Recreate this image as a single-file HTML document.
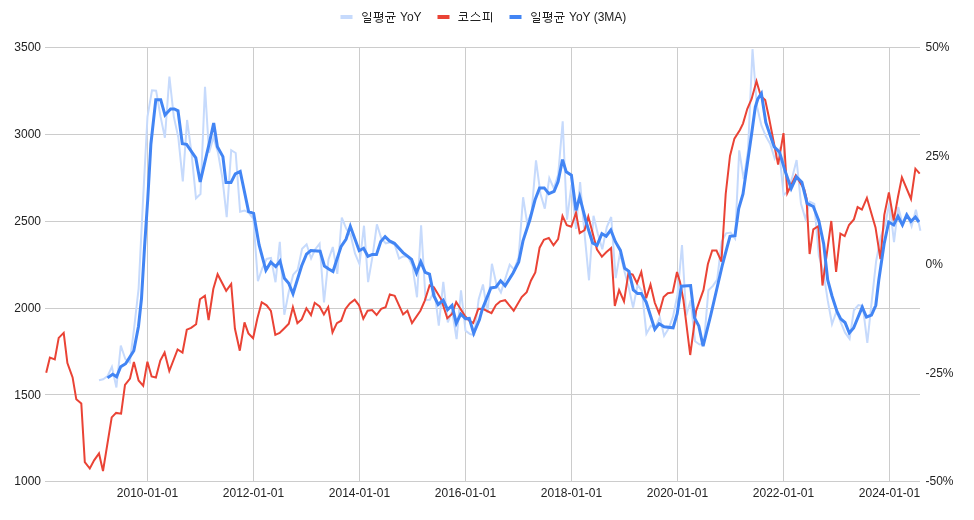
<!DOCTYPE html>
<html><head><meta charset="utf-8"><style>
html,body{margin:0;padding:0;background:#fff;overflow:hidden;}
svg{display:block;will-change:transform;}
text{font-family:"Liberation Sans",sans-serif;font-size:12px;fill:#222222;}
</style></head><body>
<svg width="974" height="520" viewBox="0 0 974 520">
<rect width="974" height="520" fill="#ffffff"/>
<line x1="45" x2="920" y1="47.5" y2="47.5" stroke="#cccccc" stroke-width="1"/>
<line x1="45" x2="920" y1="134.5" y2="134.5" stroke="#cccccc" stroke-width="1"/>
<line x1="45" x2="920" y1="221.5" y2="221.5" stroke="#cccccc" stroke-width="1"/>
<line x1="45" x2="920" y1="308.5" y2="308.5" stroke="#cccccc" stroke-width="1"/>
<line x1="45" x2="920" y1="394.5" y2="394.5" stroke="#cccccc" stroke-width="1"/>
<line x1="45" x2="920" y1="481.5" y2="481.5" stroke="#cccccc" stroke-width="1"/>
<line x1="147.5" x2="147.5" y1="47" y2="482" stroke="#cccccc" stroke-width="1"/>
<line x1="253.5" x2="253.5" y1="47" y2="482" stroke="#cccccc" stroke-width="1"/>
<line x1="359.5" x2="359.5" y1="47" y2="482" stroke="#cccccc" stroke-width="1"/>
<line x1="465.5" x2="465.5" y1="47" y2="482" stroke="#cccccc" stroke-width="1"/>
<line x1="571.5" x2="571.5" y1="47" y2="482" stroke="#cccccc" stroke-width="1"/>
<line x1="677.5" x2="677.5" y1="47" y2="482" stroke="#cccccc" stroke-width="1"/>
<line x1="783.5" x2="783.5" y1="47" y2="482" stroke="#cccccc" stroke-width="1"/>
<line x1="889.5" x2="889.5" y1="47" y2="482" stroke="#cccccc" stroke-width="1"/>
<text x="41" y="51" text-anchor="end">3500</text>
<text x="41" y="138" text-anchor="end">3000</text>
<text x="41" y="225" text-anchor="end">2500</text>
<text x="41" y="312" text-anchor="end">2000</text>
<text x="41" y="399" text-anchor="end">1500</text>
<text x="41" y="485" text-anchor="end">1000</text>
<text x="925.5" y="51" text-anchor="start">50%</text>
<text x="925.5" y="160" text-anchor="start">25%</text>
<text x="925.5" y="268" text-anchor="start">0%</text>
<text x="925.5" y="377" text-anchor="start">-25%</text>
<text x="925.5" y="485" text-anchor="start">-50%</text>
<text x="147.5" y="497" text-anchor="middle">2010-01-01</text>
<text x="253.5" y="497" text-anchor="middle">2012-01-01</text>
<text x="359.5" y="497" text-anchor="middle">2014-01-01</text>
<text x="465.5" y="497" text-anchor="middle">2016-01-01</text>
<text x="571.5" y="497" text-anchor="middle">2018-01-01</text>
<text x="677.5" y="497" text-anchor="middle">2020-01-01</text>
<text x="783.5" y="497" text-anchor="middle">2022-01-01</text>
<text x="889.5" y="497" text-anchor="middle">2024-01-01</text>
<polyline points="99.0,380.3 103.1,379.3 107.6,376.1 111.9,366.8 116.4,387.5 120.8,345.5 125.3,359.0 129.8,362.5 134.1,328.4 138.6,288.6 143.0,200.7 147.5,116.5 152.0,90.3 156.1,90.7 160.6,116.9 164.9,137.7 169.4,76.5 173.8,116.6 178.3,137.4 182.8,181.4 187.1,120.0 191.6,153.9 196.0,198.3 200.5,194.0 205.0,86.8 209.0,152.8 213.5,137.5 217.9,152.1 222.4,178.1 226.7,217.1 231.2,150.2 235.7,153.0 240.1,211.8 244.6,210.5 248.9,212.9 253.4,218.8 257.9,281.2 262.1,268.7 266.6,258.9 271.0,258.0 275.5,282.2 279.8,241.8 284.3,314.7 288.8,291.7 293.2,274.7 297.7,269.7 302.1,248.7 306.6,244.3 311.1,258.4 315.1,249.5 319.6,243.7 324.0,302.5 328.5,259.5 332.8,247.0 337.3,273.9 341.8,217.6 346.2,228.5 350.7,235.2 355.0,253.5 359.5,264.1 364.0,225.7 368.1,282.2 372.6,255.8 376.9,224.3 381.4,238.8 385.8,243.3 390.3,242.2 394.8,244.9 399.1,258.5 403.6,256.2 408.0,256.5 412.5,266.2 417.0,297.3 421.1,225.2 425.6,299.9 429.9,299.8 434.4,290.3 438.8,325.7 443.3,281.9 447.8,322.4 452.1,311.0 456.6,339.1 461.0,290.3 465.5,330.6 470.0,334.0 474.2,335.1 478.7,299.2 483.0,284.5 487.5,312.9 491.9,263.8 496.4,284.3 500.9,292.4 505.2,279.1 509.7,264.7 514.1,269.6 518.6,257.4 523.1,197.2 527.1,222.8 531.6,212.5 536.0,160.3 540.5,194.0 544.8,208.6 549.3,178.1 553.8,188.5 558.2,174.6 562.7,121.3 567.0,219.7 571.5,184.7 576.0,228.8 580.1,182.2 584.6,234.1 589.0,280.3 593.5,215.8 597.8,233.7 602.3,249.3 606.8,227.0 611.2,217.0 615.7,278.2 620.0,253.1 624.5,271.5 629.0,288.5 633.1,307.6 637.6,284.8 641.9,290.8 646.4,333.7 650.8,325.8 655.3,327.6 659.8,317.3 664.1,335.9 668.6,328.5 673.0,316.6 677.5,294.7 682.0,245.1 686.2,315.4 690.7,300.3 695.0,341.2 699.5,344.5 703.9,343.5 708.4,290.2 712.9,285.9 717.2,279.6 721.7,241.6 726.1,233.3 730.6,232.6 735.1,238.7 739.2,150.4 743.7,179.2 748.0,150.7 752.5,49.2 756.9,106.1 761.4,125.4 765.9,136.3 770.2,143.9 774.7,158.6 779.1,149.7 783.6,195.0 788.1,191.2 792.1,177.9 796.6,160.0 801.0,203.7 805.5,219.1 809.8,201.7 814.3,203.8 818.8,255.2 823.2,271.2 827.7,300.2 832.0,324.0 836.5,311.3 841.0,322.9 845.1,332.7 849.6,339.0 853.9,310.3 858.4,305.1 862.8,306.1 867.3,342.9 871.8,300.7 876.1,261.5 880.6,237.3 885.0,225.4 889.5,202.7 894.0,242.1 898.2,207.0 902.7,224.7 907.1,214.2 911.6,226.4 915.9,209.7 920.4,230.7" fill="none" stroke="#c6dafc" stroke-width="2"/>
<polyline points="46.2,372.7 49.9,357.6 54.8,359.4 58.7,337.9 63.7,332.9 67.4,363.1 72.6,377.4 76.3,399.3 81.3,403.5 84.8,462.1 89.8,468.5 94.1,460.4 99.0,453.5 103.0,471.0 111.7,417.4 116.1,412.9 121.1,413.7 125.0,384.8 130.0,378.6 133.9,362.0 138.6,380.5 143.2,385.8 147.4,361.7 151.6,376.5 155.9,377.5 160.3,360.5 164.6,352.5 169.3,371.0 177.6,349.4 182.5,352.5 186.8,329.7 191.1,327.9 196.1,324.2 200.0,299.2 204.9,295.7 208.6,320.0 213.3,289.0 217.6,274.2 226.2,290.8 231.2,284.0 234.9,328.5 239.8,350.7 244.5,322.3 248.4,333.4 253.1,338.3 257.4,318.2 261.7,302.2 266.6,305.3 270.9,310.8 275.3,334.8 279.6,333.0 283.9,328.7 288.8,323.7 292.9,307.1 297.4,323.1 301.7,319.4 306.4,308.3 311.0,315.1 314.7,302.8 319.6,306.5 323.9,314.5 328.2,307.1 332.5,332.4 336.9,323.1 341.2,320.7 345.5,309.0 349.8,303.4 354.7,299.7 359.0,305.3 363.3,318.8 367.6,310.7 372.1,310.0 376.6,315.0 381.2,308.8 385.6,307.3 389.8,294.4 394.7,295.9 403.1,314.4 407.4,310.7 412.0,323.0 420.4,310.7 424.7,300.8 429.6,285.4 433.9,287.2 441.3,299.6 447.3,318.2 452.0,314.0 456.2,302.0 464.7,315.6 469.0,320.5 473.2,323.0 478.3,308.8 483.2,309.1 491.5,313.1 495.9,305.1 500.2,301.4 505.1,300.2 513.7,310.7 521.7,297.1 526.7,292.2 531.0,280.5 535.3,272.4 539.6,247.7 543.9,239.7 548.8,237.9 553.5,245.3 558.1,239.1 562.5,215.9 566.8,225.1 571.3,226.7 576.0,212.8 579.7,233.1 584.6,230.0 588.3,216.5 597.0,249.5 601.9,256.6 606.2,252.3 611.1,248.0 614.8,306.0 619.1,290.0 624.0,301.5 628.4,273.3 632.7,274.5 637.0,283.3 641.3,272.0 646.2,298.2 650.5,284.5 654.8,302.8 659.1,313.3 663.6,297.0 667.8,293.3 672.7,292.4 677.0,272.0 680.0,282.0 683.4,300.0 690.2,355.0 696.1,310.8 703.5,289.9 707.9,264.0 712.2,250.5 716.5,250.5 721.4,261.6 725.7,194.0 730.0,155.9 734.4,138.6 739.9,130.0 743.0,123.6 747.3,108.8 751.6,99.0 756.5,81.1 760.8,96.0 765.2,100.0 768.8,116.8 778.1,164.6 783.5,133.1 787.3,193.1 795.8,175.4 804.2,189.2 806.5,198.5 809.6,254.0 813.3,229.3 818.2,226.2 822.5,285.5 831.3,221.0 836.1,272.0 840.4,233.6 844.7,236.1 849.0,225.0 853.9,219.4 857.6,207.1 861.9,209.6 866.9,197.9 875.5,227.4 880.4,259.0 884.3,214.8 888.9,192.5 893.7,220.6 898.0,196.8 901.9,177.3 911.0,199.0 915.4,168.7 919.7,173.7" fill="none" stroke="#ea4335" stroke-width="2"/>
<polyline points="107.5,377.9 112.7,374.2 116.6,376.7 120.7,366.8 125.6,363.7 133.8,350.8 138.5,326.2 141.5,298.5 144.6,246.2 147.7,200.0 150.9,144.0 155.8,99.7 160.7,99.7 165.0,115.1 170.6,109.0 174.3,109.0 178.0,110.8 182.3,143.7 186.6,144.3 195.8,157.9 200.2,181.9 210.0,140.0 213.7,123.1 217.4,146.8 222.9,156.6 226.0,182.5 231.0,182.5 235.3,173.9 240.2,171.4 248.6,211.6 253.6,213.4 259.1,245.0 265.9,270.3 270.8,262.2 275.7,266.6 280.0,261.0 284.4,278.3 288.7,283.2 293.0,293.7 301.6,266.0 306.5,254.2 310.8,250.5 320.1,251.2 324.4,266.0 328.7,269.0 333.0,271.5 341.0,246.7 346.0,239.3 350.3,226.3 359.2,250.7 363.6,248.3 367.9,256.3 372.2,254.4 376.5,254.4 380.8,241.5 385.1,236.6 389.4,240.9 394.4,243.3 403.0,252.6 411.6,259.4 416.5,272.9 420.8,261.8 425.2,272.3 429.5,274.1 433.9,295.9 438.2,304.5 443.2,300.2 447.6,309.7 452.0,305.4 456.3,323.2 460.7,314.0 465.5,318.8 469.3,318.4 473.7,333.3 479.4,319.8 482.3,309.2 490.9,287.9 495.9,287.2 500.6,280.8 505.1,285.8 513.1,273.0 518.7,261.9 523.0,240.9 529.8,220.0 535.0,200.0 539.6,187.9 544.2,187.9 548.9,193.7 554.1,191.4 558.1,181.6 562.5,159.6 566.2,171.8 571.4,175.2 576.0,210.3 579.7,196.8 586.5,223.3 592.6,243.0 597.0,245.4 601.9,233.7 606.2,236.2 610.8,230.0 615.4,241.7 620.4,250.4 624.7,268.3 629.0,271.4 633.3,289.9 637.6,293.6 641.3,293.6 646.2,302.2 654.8,329.3 659.1,323.7 664.1,326.8 673.1,327.8 677.2,313.6 681.3,286.2 690.6,285.5 694.5,317.9 698.8,325.9 703.1,346.2 710.9,314.5 718.3,282.5 722.6,264.0 730.0,236.3 735.0,235.7 738.7,208.6 743.0,194.0 751.6,134.0 755.3,107.0 757.8,99.0 761.4,93.5 765.8,122.4 774.2,146.9 779.6,152.3 785.0,170.8 791.2,188.5 796.5,176.9 801.9,182.3 807.1,203.4 813.3,206.5 818.8,220.7 823.7,244.0 827.7,280.0 832.0,296.0 837.0,311.4 840.7,318.8 845.0,322.5 849.3,333.0 853.6,328.0 862.2,307.1 866.5,317.0 871.5,315.1 875.8,305.3 878.8,280.0 884.1,244.0 888.7,222.0 893.7,225.0 898.0,216.3 902.4,225.0 906.7,214.8 911.0,221.3 915.4,217.0 919.0,222.0" fill="none" stroke="#4285f4" stroke-width="3"/>
<rect x="340.5" y="15" width="12" height="4" fill="#c6dafc"/>
<text x="400" y="21">YoY</text>
<path d="M367.3,14.4 A2.4,1.9 0 1 1 362.5,14.4 A2.4,1.9 0 1 1 367.3,14.4 Z M370.5,12 V17 M364,18.5 H370.5 V20.5 H364.5 V22.5 H371 M374,12.5 H380 M375.5,12.5 V17.5 M378.5,12.5 V17.5 M373.5,17.5 H380.5 M382.5,12 V18.8 M380.2,14.5 H382.5 M380.2,16.5 H382.5 M382.6,21 A3.4,1.45 0 1 1 375.8,21 A3.4,1.45 0 1 1 382.6,21 Z M387,12.5 H393.5 V15 M385,16.5 H395.7 M389.5,16.5 V19.5 M392.5,16.5 V19.5 M387.5,19 V22.5 H394 " fill="none" stroke="#222222" stroke-width="1"/>
<rect x="437.5" y="15" width="12" height="4" fill="#ea4335"/>
<path d="M460,12.5 H466.5 V18.4 M459.2,15.5 H466.5 M462.5,17.5 V20.2 M458.3,20.5 H468.4 M475.5,12 V13.6 L471,16.8 M475.5,13.6 L480,16.8 M470.4,20.5 H480.5 M483,12.5 H489.6 M484.5,12.5 V19 M487.7,12.5 V19 M482.4,19.5 H489.9 M491.5,12.2 V22.4 " fill="none" stroke="#222222" stroke-width="1"/>
<rect x="509.5" y="15" width="12" height="4" fill="#4285f4"/>
<text x="569" y="21">YoY (3MA)</text>
<path d="M367.3,14.4 A2.4,1.9 0 1 1 362.5,14.4 A2.4,1.9 0 1 1 367.3,14.4 Z M370.5,12 V17 M364,18.5 H370.5 V20.5 H364.5 V22.5 H371 M374,12.5 H380 M375.5,12.5 V17.5 M378.5,12.5 V17.5 M373.5,17.5 H380.5 M382.5,12 V18.8 M380.2,14.5 H382.5 M380.2,16.5 H382.5 M382.6,21 A3.4,1.45 0 1 1 375.8,21 A3.4,1.45 0 1 1 382.6,21 Z M387,12.5 H393.5 V15 M385,16.5 H395.7 M389.5,16.5 V19.5 M392.5,16.5 V19.5 M387.5,19 V22.5 H394 " fill="none" stroke="#222222" stroke-width="1" transform="translate(169,0)"/>
</svg>
</body></html>
